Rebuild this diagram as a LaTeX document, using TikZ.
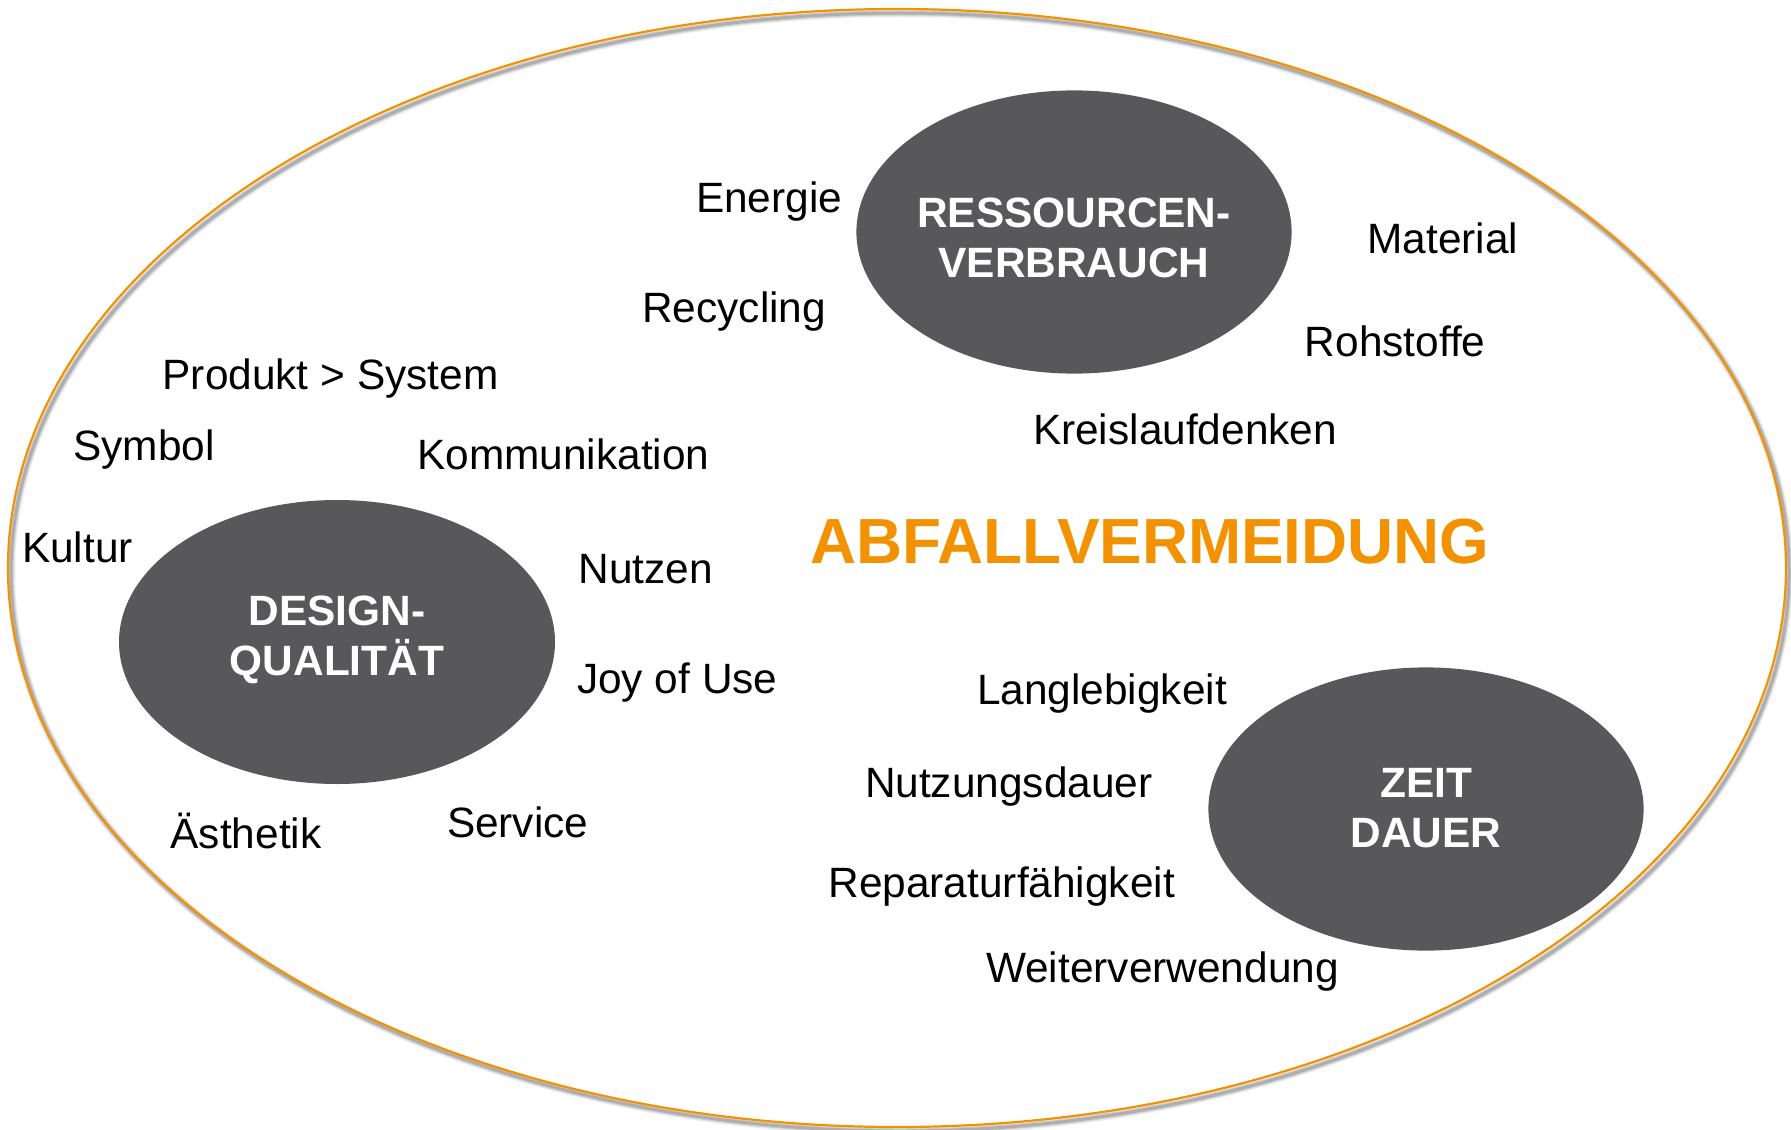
\documentclass[tikz,border=0pt]{standalone}
\usepackage{fontspec}
\setmainfont{Liberation Sans}
\usetikzlibrary{shapes.geometric}
\definecolor{orng}{RGB}{243,146,0}
\definecolor{dgray}{RGB}{88,88,90}
\begin{document}
\begin{tikzpicture}[x=0.5pt,y=-0.5pt,
  blob/.style={ellipse, fill=dgray, draw=none, inner sep=0pt},
  blobtext/.style={text=white, align=center, inner sep=0pt,
    font=\fontsize{21.2}{25}\selectfont\bfseries},
  lbl/.style={anchor=base west, inner sep=0pt, font=\fontsize{21.2}{25}\selectfont},
  title/.style={anchor=base west, inner sep=0pt, text=orng, font=\fontsize{31.9}{36}\selectfont\bfseries}]
\path[use as bounding box] (0,0) rectangle (1791,1129);
% outer ellipse with soft shadow
\foreach \w/\o in {9/0.04,7/0.07,5/0.1,3/0.15}
  \draw[black, opacity=\o, line width=\w*0.5pt] (900,572) ellipse [x radius=889, y radius=559];
\node[draw=orng, line width=1.1pt, ellipse, minimum width=889pt, minimum height=559pt, inner sep=0pt] (outer) at (897,568) {};
% main circles
\node[blob, minimum width=217.6pt, minimum height=141.6pt] (res) at (1074,232) {};
\node[blobtext] (restext) at (1074,238) {RESSOURCEN-\\VERBRAUCH};
\node[blob, minimum width=218pt, minimum height=142pt] (des) at (337,642) {};
\node[blobtext] (destext) at (337,640) {DESIGN-\\QUALITÄT};
\node[blob, minimum width=217.6pt, minimum height=141.6pt] (zeit) at (1426,809) {};
\node[blobtext] (zeittext) at (1426,808) {ZEIT\\DAUER};
% title
\node[title] (t) at (809.8,563.1) {ABFALLVERMEIDUNG};
% labels
\node[lbl] (l1) at (695.6,212.5) {Energie};
\node[lbl] (l2) at (641.9,322.1) {Recycling};
\node[lbl] (l3) at (1367.2,253.6) {Material};
\node[lbl] (l4) at (1304.4,356.4) {Rohstoffe};
\node[lbl] (l5) at (162.2,389.5) {Produkt > System};
\node[lbl] (l6) at (73.1,460.3) {Symbol};
\node[lbl] (l7) at (416.9,469.4) {Kommunikation};
\node[lbl] (l8) at (1032.6,444.3) {Kreislaufdenken};
\node[lbl] (l9) at (21.7,562.0) {Kultur};
\node[lbl] (l10) at (578.0,583.7) {Nutzen};
\node[lbl] (l11) at (576.8,693.3) {Joy of Use};
\node[lbl] (l12) at (976.6,704.7) {Langlebigkeit};
\node[lbl] (l13) at (864.6,797.3) {Nutzungsdauer};
\node[lbl] (l14) at (170.2,848.7) {Ästhetik};
\node[lbl] (l15) at (446.6,837.2) {Service};
\node[lbl] (l16) at (828.1,897.8) {Reparaturfähigkeit};
\node[lbl] (l17) at (985.7,982.3) {Weiterverwendung};
\end{tikzpicture}
\end{document}
